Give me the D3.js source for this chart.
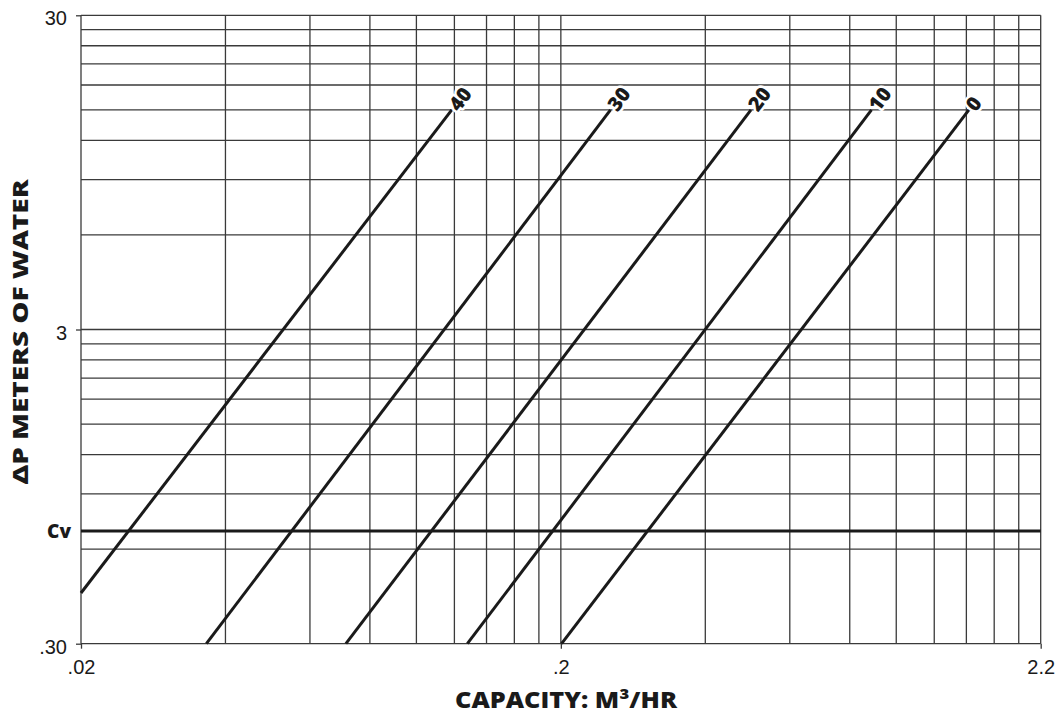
<!DOCTYPE html>
<html>
<head>
<meta charset="utf-8">
<script src="https://cdn.jsdelivr.net/npm/d3@7"></script>
<style>
  html, body { margin: 0; padding: 0; background: #fff; }
  svg { display: block; }
</style>
</head>
<body>
<svg id="chart" width="1061" height="725"></svg>
<script>
// ---- data ----
const xGridValues = [0.02, 0.04, 0.06, 0.08, 0.1, 0.12, 0.14, 0.16, 0.18, 0.2,
                     0.4, 0.6, 0.8, 1.0, 1.2, 1.4, 1.6, 1.8, 2.0];
const yGridValues = [0.3, 0.6, 0.9, 1.2, 1.5, 1.8, 2.1, 2.4, 2.7, 3,
                     6, 9, 12, 15, 18, 21, 24, 27, 30];
const xTickValues = [0.02, 0.2, 2.0];
const xTickLabels = [".02", ".2", "2.2"];
const yTickValues = [0.3, 3, 30];
const yTickLabels = [".30", "3", "30"];
const cvValue = 0.685;
const cvLabel = "Cv";
const curveLabels  = ["40", "30", "20", "10", "0"];
const curveStartQ  = [0.02, 0.0365, 0.0713, 0.1277, 0.2007];
const curveStartDP = [0.435, 0.3, 0.3, 0.3, 0.3];
const curveEndQ    = [0.1185, 0.2538, 0.498, 0.888, 1.417];
const curveEndDP   = [15, 15, 15, 15, 15];
const xTitle = "CAPACITY: M³/HR";
const yTitle = "ΔP METERS OF WATER";

// ---- layout ----
const svg = d3.select("#chart");
const pLeft = 81, pRight = 1040.7, pTop = 15.3, pBottom = 643.7;
const boldFont = "'Open Sans', Lato, sans-serif";
const tickFont = "'Liberation Sans', Arial, sans-serif";

const x = d3.scaleLog().domain([0.02, 2.0]).range([pLeft, pRight]);
const y = d3.scaleLog().domain([0.3, 30]).range([pBottom, pTop]);

const gridColor = "#3a3a3a";

// grid
svg.append("g").selectAll("line").data(xGridValues).join("line")
  .attr("x1", d => x(d)).attr("x2", d => x(d))
  .attr("y1", pTop).attr("y2", pBottom)
  .attr("stroke", gridColor).attr("stroke-width", 1.3);
svg.append("g").selectAll("line").data(yGridValues).join("line")
  .attr("x1", pLeft).attr("x2", pRight)
  .attr("y1", d => y(d)).attr("y2", d => y(d))
  .attr("stroke", gridColor).attr("stroke-width", 1.3);

// axes (ticks + labels)
const xAxis = d3.axisBottom(x).tickValues(xTickValues)
  .tickFormat((d, i) => xTickLabels[i]).tickSize(5).tickPadding(11);
const gx = svg.append("g").attr("transform", `translate(0,${pBottom})`).call(xAxis);
gx.select(".domain").remove();
gx.selectAll(".tick line").attr("stroke", gridColor).attr("stroke-width", 1.3);
gx.selectAll(".tick text").attr("font-family", tickFont)
  .attr("font-size", 20).attr("fill", "#1a1a1a");

const yAxis = d3.axisLeft(y).tickValues(yTickValues)
  .tickFormat((d, i) => yTickLabels[i]).tickSize(5).tickPadding(9);
const gy = svg.append("g").attr("transform", `translate(${pLeft},0)`).call(yAxis);
gy.select(".domain").remove();
gy.selectAll(".tick line").attr("stroke", gridColor).attr("stroke-width", 1.3);
gy.selectAll(".tick text").attr("font-family", tickFont)
  .attr("font-size", 20).attr("fill", "#1a1a1a").attr("dy", "0.48em");

// Cv line
svg.append("line")
  .attr("x1", pLeft).attr("x2", pRight)
  .attr("y1", y(cvValue)).attr("y2", y(cvValue))
  .attr("stroke", "#1a1a1a").attr("stroke-width", 3);
svg.append("text")
  .attr("x", pLeft - 10).attr("y", y(cvValue)).attr("dy", "0.36em")
  .attr("text-anchor", "end")
  .attr("font-family", boldFont).attr("font-weight", 800)
  .attr("font-size", 19).attr("fill", "#1a1a1a")
  .text(cvLabel);

// curves
const curves = curveLabels.map((lab, i) => ({
  label: lab,
  p0: [curveStartQ[i], curveStartDP[i]],
  p1: [curveEndQ[i], curveEndDP[i]]
}));
const line = d3.line().x(d => x(d[0])).y(d => y(d[1]));
svg.append("g").selectAll("path").data(curves).join("path")
  .attr("d", d => line([d.p0, d.p1]))
  .attr("fill", "none").attr("stroke", "#1a1a1a").attr("stroke-width", 3);

// curve labels
svg.append("g").selectAll("text").data(curves).join("text")
  .each(function(d) {
    const x0 = x(d.p0[0]), y0 = y(d.p0[1]);
    const x1 = x(d.p1[0]), y1 = y(d.p1[1]);
    const ang = Math.atan2(y1 - y0, x1 - x0);
    const px = x1 + Math.cos(ang) * 2, py = y1 + Math.sin(ang) * 2;
    d3.select(this)
      .attr("transform", `translate(${px},${py}) rotate(${ang * 180 / Math.PI})`);
  })
  .attr("text-anchor", "start").attr("dy", "0.36em")
  .attr("font-family", boldFont).attr("font-weight", 800)
  .attr("font-size", 20).attr("fill", "#1a1a1a")
  .attr("stroke", "#fff").attr("stroke-width", 5).attr("paint-order", "stroke")
  .attr("stroke-linejoin", "round")
  .text(d => d.label);

// titles
svg.append("text")
  .attr("x", 566).attr("y", 708)
  .attr("text-anchor", "middle")
  .attr("font-family", boldFont).attr("font-weight", 800)
  .attr("font-size", 22).attr("fill", "#1a1a1a")
  .attr("textLength", 222).attr("lengthAdjust", "spacingAndGlyphs")
  .text(xTitle);
svg.append("text")
  .attr("transform", `translate(28,332) rotate(-90)`)
  .attr("text-anchor", "middle")
  .attr("font-family", boldFont).attr("font-weight", 800)
  .attr("font-size", 21).attr("fill", "#1a1a1a")
  .attr("textLength", 305).attr("lengthAdjust", "spacingAndGlyphs")
  .text(yTitle);
</script>
</body>
</html>
